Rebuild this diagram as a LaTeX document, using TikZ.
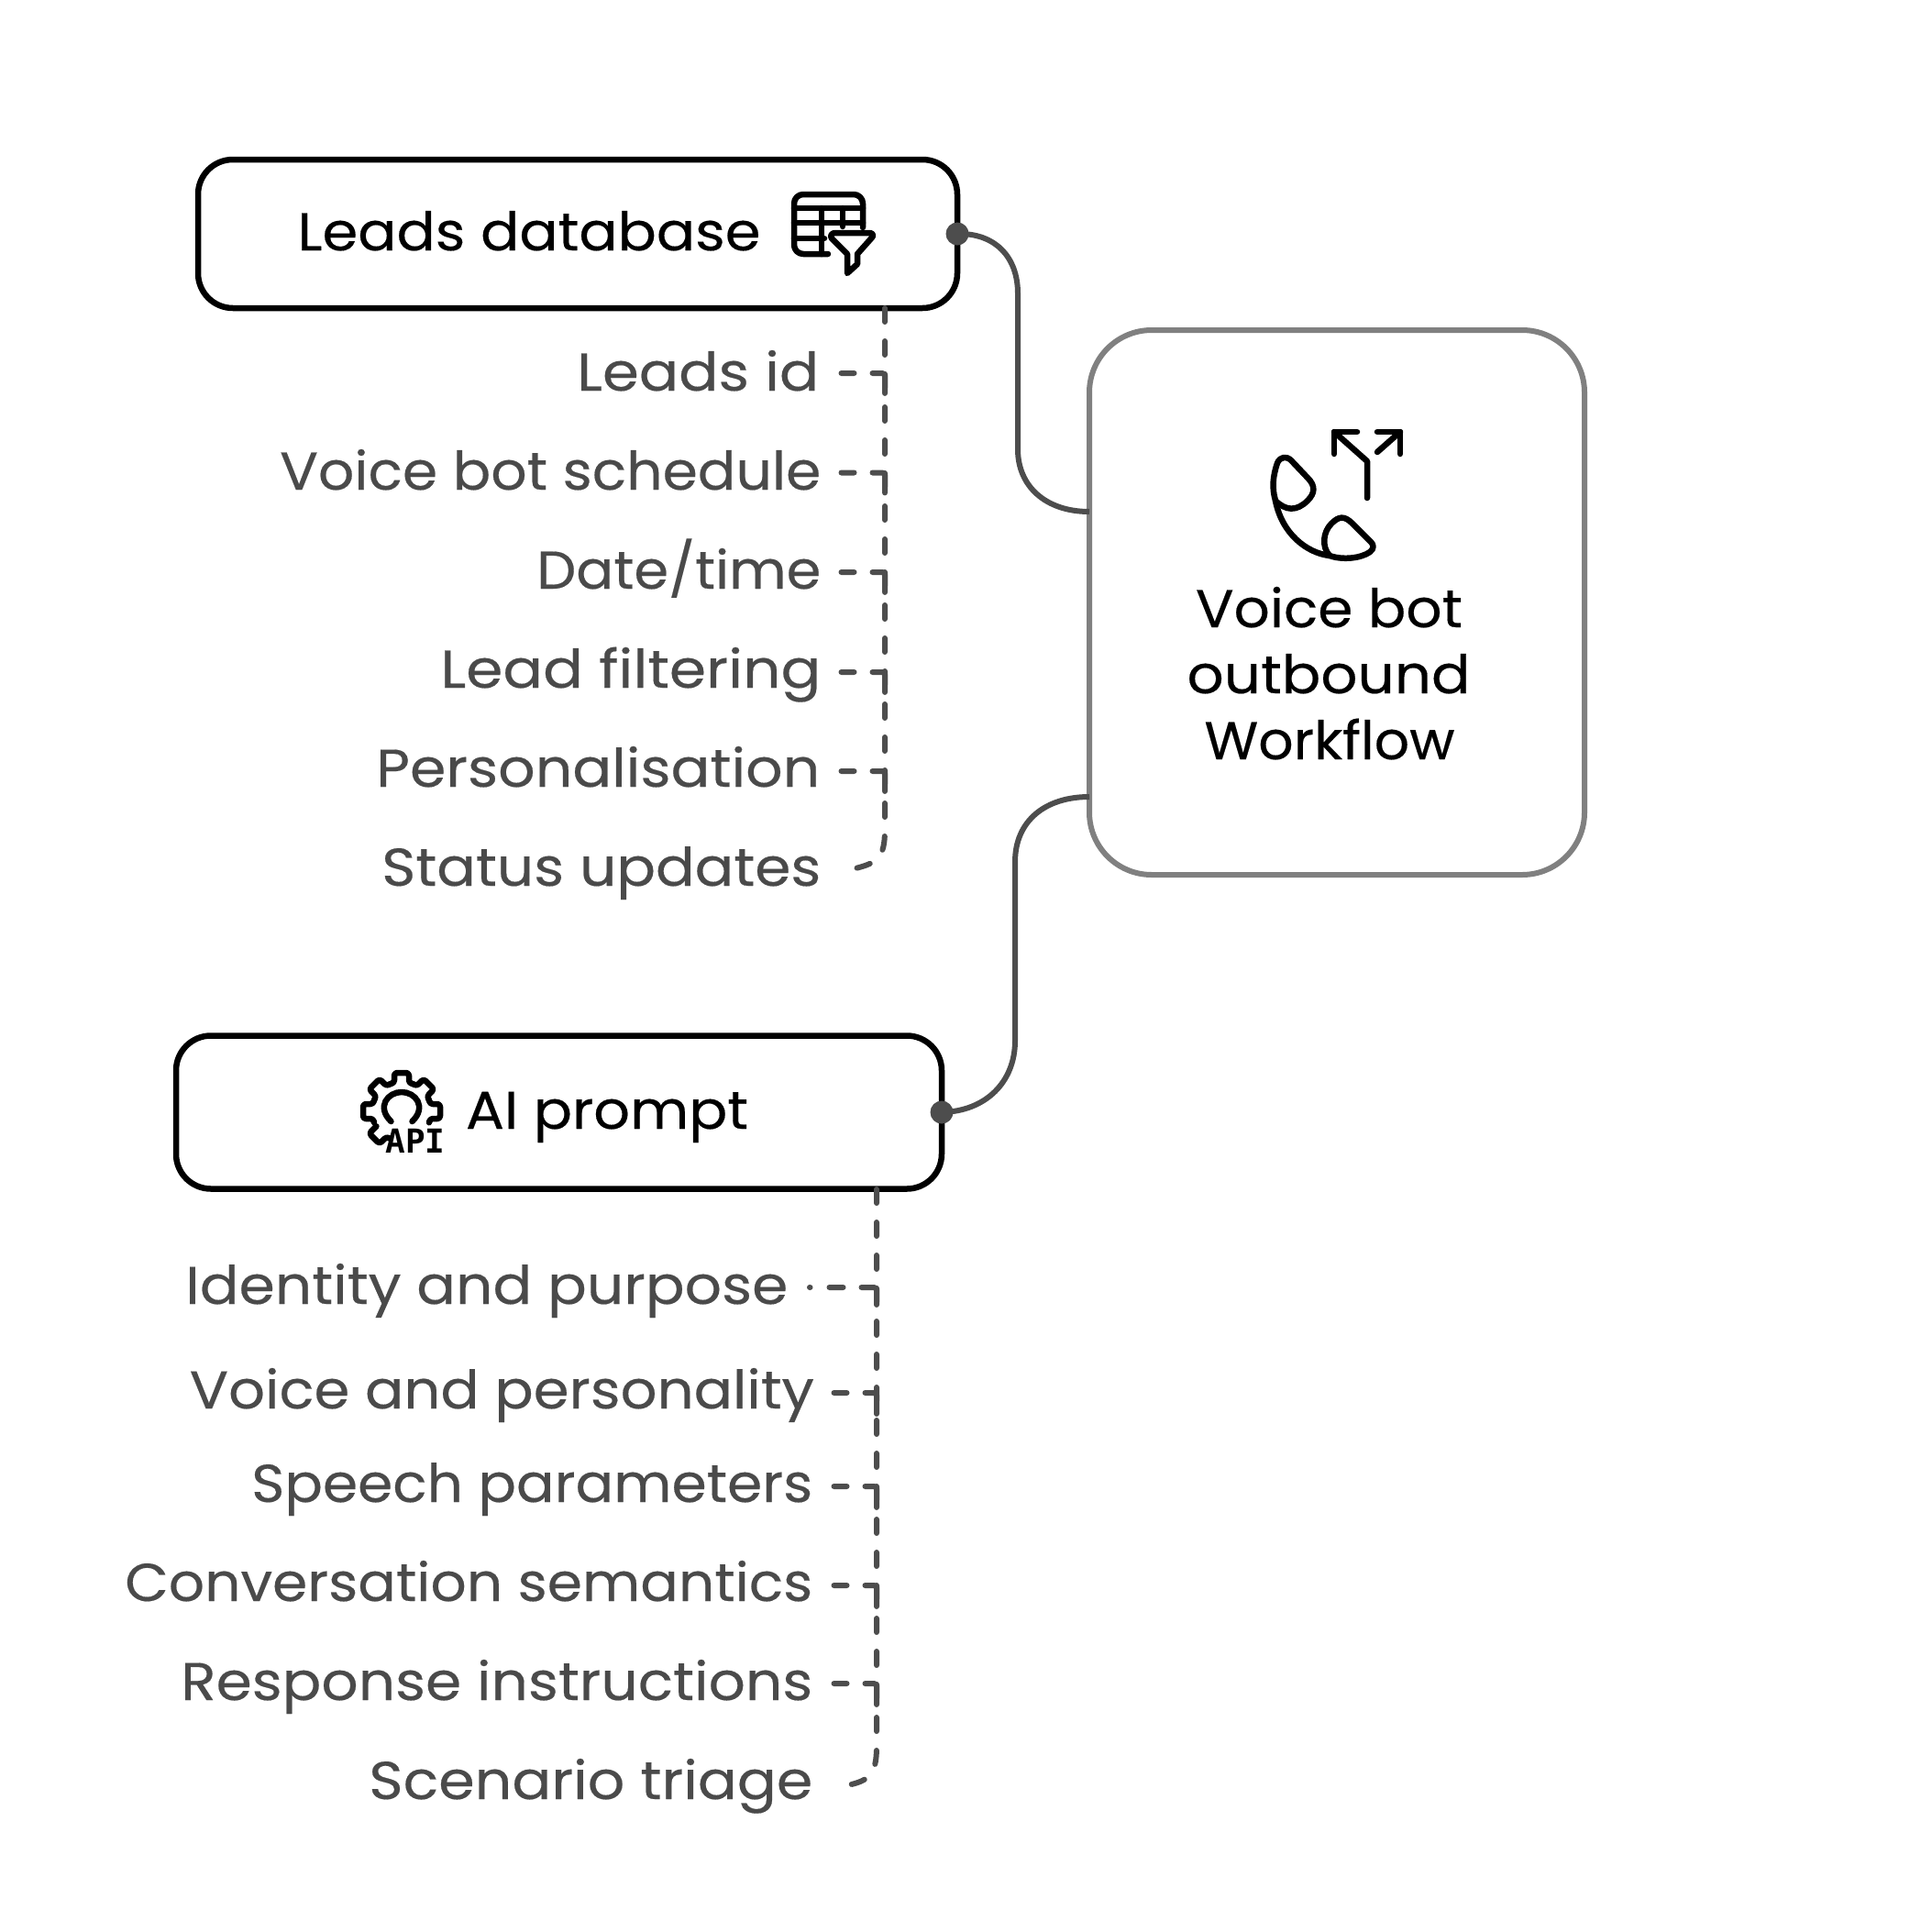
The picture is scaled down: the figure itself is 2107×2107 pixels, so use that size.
\documentclass[tikz,border=0pt]{standalone}
\usepackage{fontspec}
\setmainfont{Poppins}[FakeBold=0.3]
\newfontfamily\apifont{DejaVu Sans Mono}[BoldFont={DejaVu Sans Mono Bold}]
\definecolor{txtgray}{HTML}{4A4A4A}
\definecolor{linkgray}{HTML}{4D4D4D}
\definecolor{framegray}{HTML}{808080}
\newcommand{\fitw}[2]{\resizebox{#1pt}{\height}{#2}}
\tikzset{
  x=1pt,y=-1pt,
  srcbox/.style={draw=black,line width=6.5pt,rounded corners=38pt,fill=white,inner sep=0pt,outer sep=0pt},
  mainbox/.style={draw=framegray,line width=6pt,rounded corners=68pt,fill=white,inner sep=0pt,outer sep=0pt},
  leaf/.style={anchor=base east,inner sep=0pt,text=txtgray,font=\fontsize{58}{58}\selectfont},
  boxlabel/.style={anchor=base,inner sep=0pt,text=black,font=\fontsize{58}{58}\selectfont},
  link/.style={draw=linkgray,line width=6pt},
  trunk/.style={draw=linkgray,line width=6pt,line cap=round,dash pattern=on 15pt off 21pt},
  twig/.style={draw=linkgray,line width=6pt,line cap=round,rounded corners=3pt,dash pattern=on 14pt off 20pt on 34pt off 500pt},
  icon/.style={draw=black,line width=6.5pt,line cap=round,line join=round},
  dot/.style={circle,fill=linkgray,minimum size=25pt,inner sep=0pt},
}
\begin{document}
\begin{tikzpicture}
\useasboundingbox (0,0) rectangle (2107,2107);
\fill[white] (0,0) rectangle (2107,2107);

% boxes
\node[srcbox,minimum width=828pt,minimum height=162pt] (leads) at (630,255) {};
\node[srcbox,minimum width=835pt,minimum height=167pt] (prompt) at (609.5,1213) {};
\node[mainbox,minimum width=540pt,minimum height=594pt] (main) at (1458,657) {};

\coordinate (inA) at (main.west |- 0,558);
\coordinate (inB) at (main.west |- 0,869);
\draw[link] (leads.east) .. controls (1085,254) and (1110,280) .. (1110,320) -- (1110,490)
  .. controls (1110,530) and (1140,558) .. (inA);
\draw[link] (prompt.east) .. controls (1075,1212) and (1107,1180) .. (1107,1135) -- (1107,940)
  .. controls (1107,895) and (1140,869) .. (inB);
\node[dot] (dotA) at (leads.east) {};
\node[dot] (dotB) at (prompt.east) {};

% dashed trunks
\coordinate (endA) at (933,947);
\coordinate (endB) at (924,1947);
\draw[trunk] (965,336) -- (965,905) .. controls (965,935) and (957,941) .. (endA);
\draw[trunk] (956,1297) -- (956,1905) .. controls (956,1935) and (948,1942) .. (endB);

\foreach \yy in {407,515.5,624,733,841}
  \draw[twig] (917.5,\yy) -- (965,\yy) -- (965,\yy+25);
\draw[twig,dash pattern=on 0.5pt off 21pt on 15pt off 20pt on 34pt off 500pt] (883,1404) -- (956,1404) -- (956,1431);
\foreach \yy in {1519,1621,1729,1836}
  \draw[twig] (909.5,\yy) -- (956,\yy) -- (956,\yy+25);

\node[leaf] (l1) at (893.5,426) {\fitw{264}{Leads id}};
\node[leaf] (l2) at (895.5,534) {\fitw{590}{Voice bot schedule}};
\node[leaf] (l3) at (895.5,642) {\fitw{310}{Date/time}};
\node[leaf] (l4) at (895.5,750) {\fitw{415}{Lead filtering}};
\node[leaf] (l5) at (894.5,858) {\fitw{484}{Personalisation}};
\node[leaf] (l6) at (895.5,966) {\fitw{479}{Status updates}};

\node[leaf] (p1) at (859.5,1422) {\fitw{657}{Identity and purpose}};
\node[leaf] (p2) at (888,1536) {\fitw{681}{Voice and personality}};
\node[leaf] (p3) at (886.5,1638) {\fitw{612}{Speech parameters}};
\node[leaf] (p4) at (886.5,1746) {\fitw{750}{Conversation semantics}};
\node[leaf] (p5) at (886.5,1854) {\fitw{689}{Response instructions}};
\node[leaf] (p6) at (886.5,1962) {\fitw{484}{Scenario triage}};

\node[boxlabel] (t1) at (577,273) {\fitw{505}{Leads database}};
\node[boxlabel] (t2) at (662,1231) {\fitw{308}{AI prompt}};
\node[boxlabel] (m1) at (1449.5,684) {\fitw{291}{Voice bot}};
\node[boxlabel] (m2) at (1449,756) {\fitw{309}{outbound}};
\node[boxlabel] (m3) at (1450,828) {\fitw{273}{Workflow}};

% table with funnel icon
\draw[icon] (903,277) -- (876,277) arc[start angle=90,end angle=180,radius=10] -- (866,222)
  arc[start angle=180,end angle=270,radius=10] -- (931,212) arc[start angle=270,end angle=360,radius=10] -- (941,248);
\draw[icon] (866,227) -- (941,227) (866,243) -- (941,243) (866,260) -- (899,260)
  (896,227) -- (896,277) (919,227) -- (919,247);
\draw[icon] (911,254) -- (948,254) .. controls (952,254) and (953,257) .. (951,259) -- (935,277) -- (935,288) -- (924,298) -- (924,277) -- (907,260) .. controls (905,257) and (907,254) .. (911,254) -- cycle;

% phone with split arrows icon
\draw[icon] (1480,471) -- (1455,471) -- (1455,495);
\draw[icon] (1455,471) -- (1491,503) -- (1491,543);
\draw[icon] (1502,471) -- (1527,471) -- (1527,495);
\draw[icon] (1527,471) -- (1502,493);
\draw[icon] (1393,505) .. controls (1396,498) and (1403,497) .. (1408,502) -- (1426,521)
  .. controls (1435,530) and (1434,538) .. (1426,546) .. controls (1414,558) and (1402,557) .. (1391,546)
  .. controls (1387,532) and (1388,520) .. (1393,505) -- cycle;
\draw[icon] (1391,546) .. controls (1398,582) and (1425,603) .. (1450,606);
\draw[icon] (1450,606) .. controls (1464,611) and (1484,609) .. (1494,602) .. controls (1499,598) and (1498,594) .. (1495,591)
  -- (1475,571) .. controls (1466,562) and (1460,563) .. (1452,571) .. controls (1443,580) and (1441,596) .. (1450,606) -- cycle;

% API gear icon
\begin{scope}[shift={(438,1212)}]
  \foreach \aa in {-90,-45,0,45,90}
    \draw[icon,rotate=\aa,rounded corners=3pt] (-12.2,-30) -- (-8,-31) -- (-8,-42) -- (8,-42) -- (8,-31) -- (12.2,-30);
  \draw[icon,rotate=135,rounded corners=3pt] (-12.2,-30) -- (-8,-31) -- (-8,-42) -- (8,-42) -- (8,-31);
  \draw[icon] (-11.5,11) .. controls (-28,-5) and (-15,-21) .. (0,-21) .. controls (15,-21) and (28,-5) .. (11.5,11);
\end{scope}
\node[inner sep=0pt,text=black,font=\fontsize{36}{36}\selectfont\apifont\bfseries] (apiword) at (453,1244) {API};
\end{tikzpicture}
\end{document}
